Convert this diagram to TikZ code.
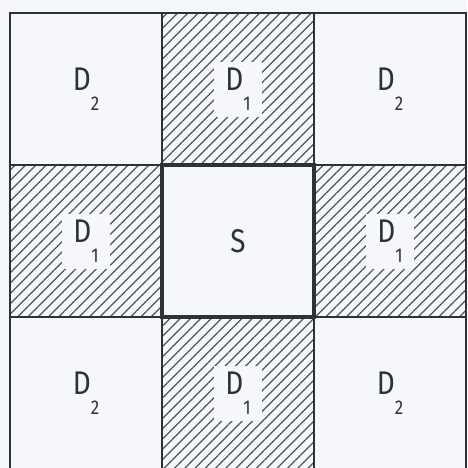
\documentclass[tikz,border=0pt]{standalone}
\usepackage{fontspec}
\setmainfont{Fira Sans}[FakeStretch=0.85]
\usepackage{xcolor}
\usepackage{tikz}
\usetikzlibrary{patterns.meta, positioning}
\definecolor{gridink}{RGB}{45,50,58}
\definecolor{hatchink}{RGB}{78,84,94}
\definecolor{paper}{RGB}{246,247,250}
\newcommand{\dlab}[1]{D\raisebox{-0.6em}{\fontsize{17}{17}\selectfont #1}}

\begin{document}
\begin{tikzpicture}[x=0.03cm, y=-0.03cm,
    cell/.style={draw=gridink, line width=1.8pt, minimum width=4.56cm,
        minimum height=4.56cm, inner sep=0pt, outer sep=0pt},
    hatched/.style={cell, pattern={Lines[angle=45, distance=6.2pt, line width=1.05pt]},
        pattern color=hatchink},
    lab/.style={font=\fontsize{28}{28}\selectfont, text=gridink, inner sep=2pt},
    labbg/.style={lab, fill=paper, minimum width=1.45cm, minimum height=1.65cm}]
    \fill[paper] (0,0) rectangle (467,468);
    \useasboundingbox (0,0) rectangle (467,468);
    % top row
    \node[cell] (d2nw) at (86,89) {};
    \node[hatched, right=0pt of d2nw] (d1n) {};
    \node[cell, right=0pt of d1n] (d2ne) {};
    % middle row
    \node[hatched, below=0pt of d2nw] (d1w) {};
    \node[cell, right=0pt of d1w] (s) {};
    \node[hatched, right=0pt of s] (d1e) {};
    % bottom row
    \node[cell, below=0pt of d1w] (d2sw) {};
    \node[hatched, right=0pt of d2sw] (d1s) {};
    \node[cell, right=0pt of d1s] (d2se) {};
    % source cell drawn heavier on top
    \node[cell, line width=2.7pt] (sbox) at (s) {};
    % labels
    \node[lab] (l-nw) at (d2nw) {\dlab{2}};
    \node[labbg] (l-n) at (d1n) {\dlab{1}};
    \node[lab] (l-ne) at (d2ne) {\dlab{2}};
    \node[labbg] (l-w) at (d1w) {\dlab{1}};
    \node[lab] (l-s) at (s) {S};
    \node[labbg] (l-e) at (d1e) {\dlab{1}};
    \node[lab] (l-sw) at (d2sw) {\dlab{2}};
    \node[labbg] (l-so) at (d1s) {\dlab{1}};
    \node[lab] (l-se) at (d2se) {\dlab{2}};
\end{tikzpicture}
\end{document}
